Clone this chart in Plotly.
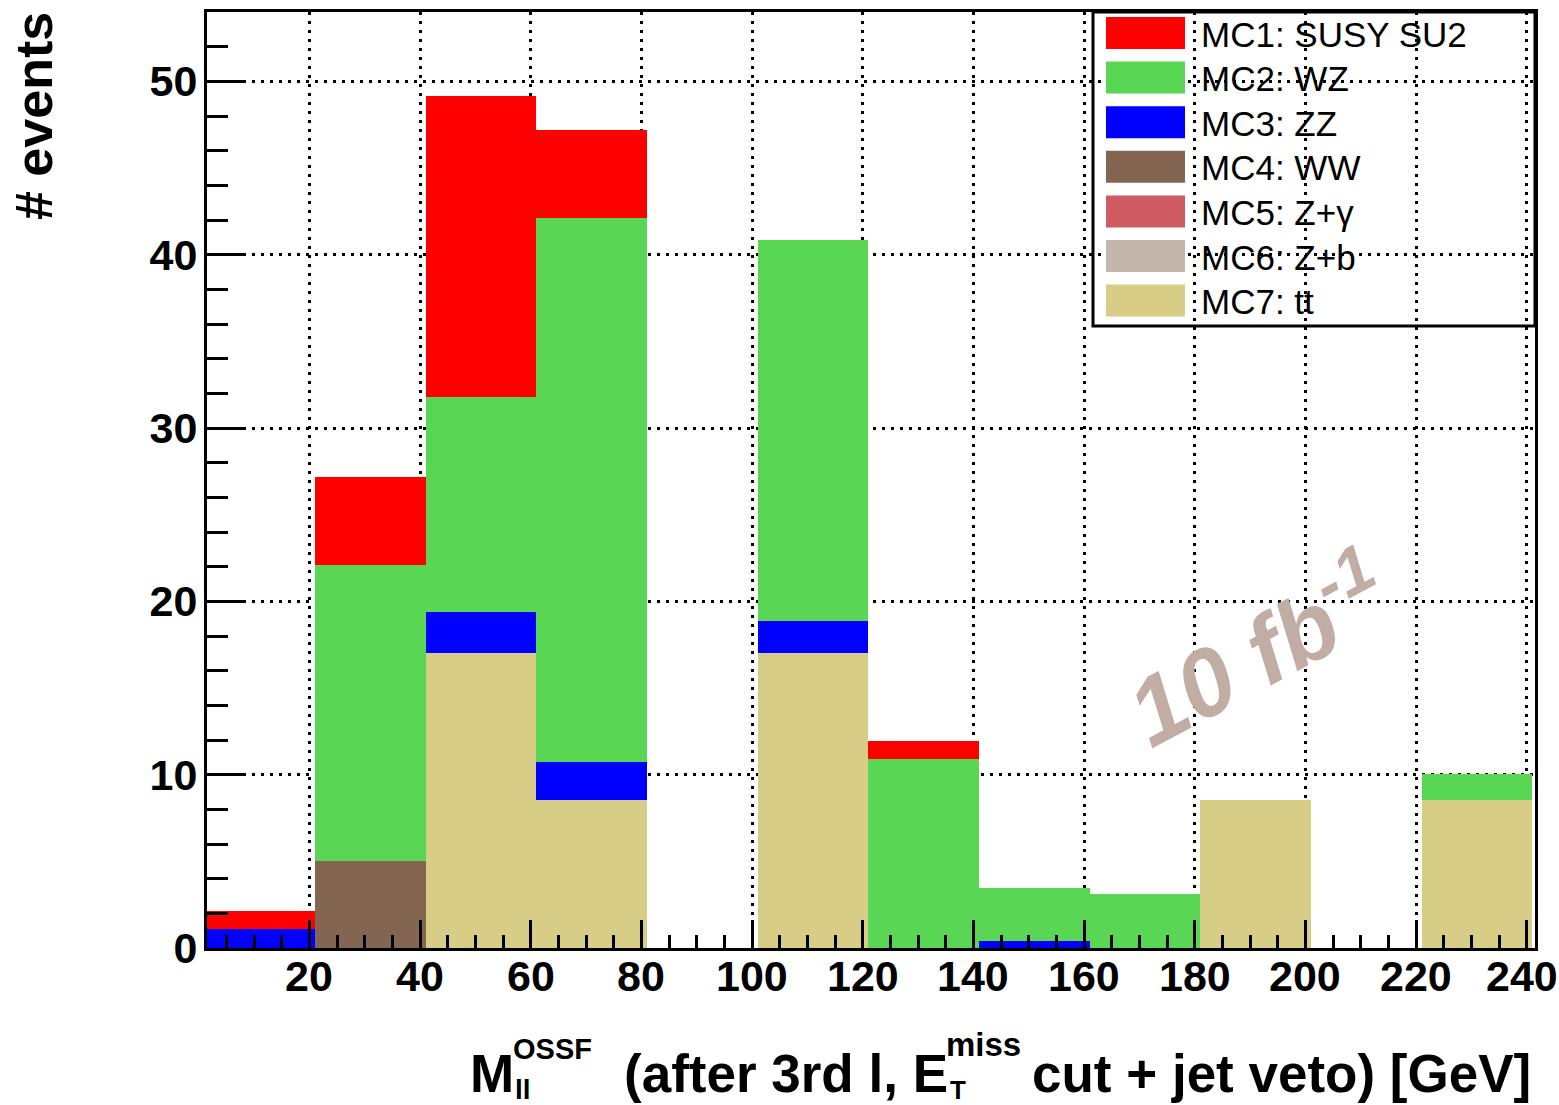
import plotly.graph_objects as go

# ---------------- data ----------------
bin_centers = [11, 31, 51, 71, 91, 111, 131, 151, 171, 191, 211, 231]
bin_width = 20
labels = ["MC1: SUSY SU2", "MC2: WZ", "MC3: ZZ", "MC4: WW", "MC5: Z+γ", "MC6: Z+b", "MC7: tt"]
susy   = [1.05, 5.1, 17.4, 5.1, 0, 0, 1.05, 0, 0, 0, 0, 0]
wz     = [0, 17.1, 12.37, 31.35, 0, 22.0, 10.9, 3.05, 3.1, 0, 0, 1.5]
zz     = [1.1, 0, 2.4, 2.2, 0, 1.85, 0, 0.4, 0, 0, 0, 0]
ww     = [0, 5.0, 0, 0, 0, 0, 0, 0, 0, 0, 0, 0]
zgamma = [0, 0, 0, 0, 0, 0, 0, 0, 0, 0, 0, 0]
zb     = [0, 0, 0, 0, 0, 0, 0, 0, 0, 0, 0, 0]
tt     = [0, 0, 17.0, 8.55, 0, 17.0, 0, 0, 0, 8.55, 0, 8.55]
x_ticks = [20, 40, 60, 80, 100, 120, 140, 160, 180, 200, 220, 240]
x_ticktext = ["20", "40", "60", "80", "100", "120", "140", "160", "180", "200", "220", "240"]
y_ticks = [0, 10, 20, 30, 40, 50]

colors = {
    "MC1: SUSY SU2": "#ff0000",
    "MC2: WZ": "#59d654",
    "MC3: ZZ": "#0000ff",
    "MC4: WW": "#846551",
    "MC5: Z+γ": "#cf5c62",
    "MC6: Z+b": "#c4b6aa",
    "MC7: tt": "#d7cd86",
}
series = {
    "MC1: SUSY SU2": susy, "MC2: WZ": wz, "MC3: ZZ": zz, "MC4: WW": ww,
    "MC5: Z+γ": zgamma, "MC6: Z+b": zb, "MC7: tt": tt,
}

W, H = 1559, 1105
L, R, T, B = 207, 24, 12, 157
PW, PH = W - L - R, H - T - B

def px(x):
    return (x - L) / PW

def py(y):
    return (H - B - y) / PH

FONT = "Liberation Sans"

fig = go.Figure()
# stack bottom -> top: tt, Z+b, Z+gamma, WW, ZZ, WZ, SUSY
for name in reversed(labels):
    fig.add_trace(go.Bar(
        x=bin_centers, y=series[name], width=bin_width,
        marker=dict(color=colors[name], line=dict(width=0)),
        name=name, showlegend=False,
    ))

fig.update_layout(
    width=W, height=H,
    margin=dict(l=L, r=R, t=T, b=B, pad=0, autoexpand=False),
    barmode="stack", bargap=0,
    plot_bgcolor="white", paper_bgcolor="white",
    font=dict(family=FONT, color="black"),
)

fig.update_xaxes(
    range=[1.5, 241.5], tickmode="array", tickvals=x_ticks, showticklabels=False,
    ticks="inside", ticklen=28, tickwidth=3, tickcolor="black",
    minor=dict(ticks="inside", ticklen=13, tickwidth=3, tickcolor="black", dtick=5, tick0=0, showgrid=False),
    showgrid=True, gridcolor="black", gridwidth=3, griddash="3px,6px",
    showline=True, linecolor="black", linewidth=3, mirror=True,
    zeroline=False, automargin=False,
)
fig.update_yaxes(
    range=[0, 54], tickmode="array", tickvals=y_ticks,
    ticks="inside", ticklen=39, tickwidth=3, tickcolor="black",
    minor=dict(ticks="inside", ticklen=21, tickwidth=3, tickcolor="black", dtick=2, tick0=0, showgrid=False),
    showgrid=True, gridcolor="black", gridwidth=3, griddash="3px,6px",
    showline=True, linecolor="black", linewidth=3, mirror=True,
    tickfont=dict(family=FONT, size=43, weight="bold", color="black"),
    ticklabelstandoff=-2, zeroline=False, automargin=False,
)

annotations = []

# x tick labels placed on the x axis scale
for v, t in zip(x_ticks, x_ticktext):
    annotations.append(dict(text=t, xref="x", yref="paper", x=v, y=py(976),
                            xanchor="center", yanchor="middle", showarrow=False,
                            xshift=-5 if v == x_ticks[-1] else 0,
                            font=dict(family=FONT, size=43, weight="bold", color="black")))

# ---------------- custom legend ----------------
shapes = [dict(type="rect", xref="paper", yref="paper",
               x0=px(1093), x1=px(1535), y0=py(326), y1=py(12),
               line=dict(color="black", width=3), fillcolor="rgba(0,0,0,0)")]
for i, name in enumerate(labels):
    top = 17 + 44.6 * i
    shapes.append(dict(type="rect", xref="paper", yref="paper",
                       x0=px(1106), x1=px(1185), y0=py(top + 32), y1=py(top),
                       line=dict(width=0), fillcolor=colors[name]))
    annotations.append(dict(text=name, xref="paper", yref="paper",
                            x=px(1199), y=py(top + 17), xanchor="left", yanchor="middle",
                            showarrow=False, font=dict(family=FONT, size=35, color="black")))

# ---------------- axis titles ----------------
def txt(s, x, baseline, size, anchor="left", bold=True):
    center = baseline - 0.3465 * size
    annotations.append(dict(text=s, xref="paper", yref="paper", x=px(x), y=py(center),
                            xanchor=anchor, yanchor="middle", showarrow=False,
                            font=dict(family=FONT, size=size, color="black",
                                      weight="bold" if bold else "normal")))

txt("M", 468, 1092, 53)
txt("OSSF", 511, 1059, 29)
txt("ll", 513, 1099, 28)
txt("(after 3rd l, E", 622, 1092, 53)
txt("miss", 944, 1056, 33)
txt("T", 948, 1099, 26)
txt("cut + jet veto) [GeV]", 1533, 1092, 53, anchor="right")

annotations.append(dict(text="# events", xref="paper", yref="paper",
                        x=px(33.5), y=py(116.5), xanchor="center", yanchor="middle",
                        textangle=-90, showarrow=False,
                        font=dict(family=FONT, size=52, weight="bold", color="black")))

annotations.append(dict(text="10 fb<sup>-1</sup>", xref="paper", yref="paper",
                        x=px(1256), y=py(648), xanchor="center", yanchor="middle",
                        textangle=-28, showarrow=False,
                        font=dict(family=FONT, size=95, weight="bold", style="italic", color="#c1ada3")))

fig.update_layout(shapes=shapes, annotations=annotations)
fig.write_html("out.html")
